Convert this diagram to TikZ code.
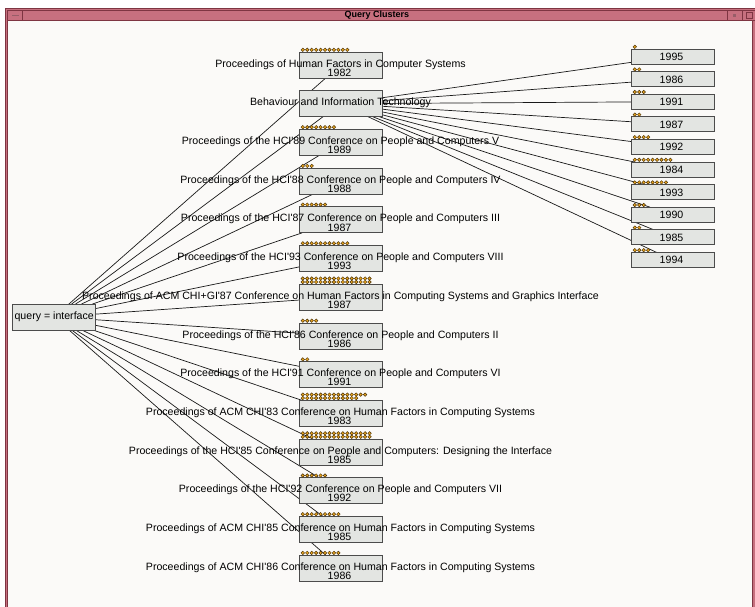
\documentclass[tikz,border=0pt]{standalone}
\usepackage{fontspec}
\setmainfont{Liberation Sans}[Ligatures=TeXOff]
\definecolor{winbg}{HTML}{FBFAF8}
\definecolor{titlec}{HTML}{C7707F}
\definecolor{titledark}{HTML}{7E3542}
\definecolor{boxfill}{HTML}{E3E5E2}
\definecolor{boxline}{HTML}{4C4C4C}
\definecolor{dotfill}{HTML}{E8A41E}
\definecolor{dotline}{HTML}{4A3208}
\pgfdeclarelayer{bg}
\pgfdeclarelayer{edges}
\pgfsetlayers{bg,edges,main}
\newcommand\mydotrow[3]{%
  \ifnum#1>0
    \foreach \k in {1,...,#1}
      \fill[dotstyle] ({#2+4.45*(\k-1)},#3) circle[radius=1.75pt];
  \fi}
\begin{document}
\begin{tikzpicture}[x=1pt,y=-1pt,
  box/.style={draw=boxline,fill=boxfill,line width=0.8pt,minimum width=83pt,minimum height=26pt,inner sep=0pt,outer sep=0pt},
  rbox/.style={box,minimum height=15pt},
  lbl/.style={inner sep=0pt,font=\fontsize{10.6}{12}\selectfont},
  yr/.style={inner sep=0pt,font=\fontsize{10.6}{12}\selectfont},
  edge/.style={draw=black!90,line width=0.7pt},
  dotstyle/.style={fill=dotfill,draw=dotline,line width=0.45pt}]
\useasboundingbox (0,0) rectangle (755,607);
% window frame
\begin{pgfonlayer}{bg}
  \fill[white] (0,0) rectangle (755,607);
  \fill[winbg] (7.3,21.5) rectangle (752.5,607);
  \fill[titlec] (5,8) rectangle (755,21.5);
  \fill[titlec] (5,21.5) rectangle (7.3,607);
  \fill[titlec] (752.5,21.5) rectangle (755,607);
  \draw[titledark,line width=0.6pt] (5,607) -- (5,8) -- (755,8);
  \draw[titledark,line width=0.7pt] (7.3,607) -- (7.3,10.3) -- (755,10.3);
  \draw[titledark,line width=0.6pt] (7.3,20.3) -- (755,20.3);
  \draw[titledark,line width=0.6pt] (22.7,10.3) -- (22.7,20.3);
  \draw[titledark,line width=0.6pt] (727,10.3) -- (727,20.3);
  \draw[titledark,line width=0.6pt] (742,10.3) -- (742,20.3);
  \draw[titledark,line width=0.6pt] (752.5,20.3) -- (752.5,607);
  \fill[titledark!80] (11.5,14.6) rectangle (18.5,16.4);
  \fill[titledark!80] (733.3,14.3) rectangle (735.8,16.6);
  \draw[titledark,line width=0.5pt] (746.5,12.3) rectangle (752,18.3);
  \node[font=\bfseries\fontsize{9}{10}\selectfont,inner sep=0pt] (title) at (377,15.3) {Query Clusters};
\end{pgfonlayer}
% query node
\node[box] (q) at (54.2,317) {};
\node[inner sep=0pt,font=\fontsize{10.6}{12}\selectfont] (qt) at (54.2,317) {query = interface};
% centre column
\foreach \i/\txt/\yr/\ra/\rb in {
  1/Proceedings of Human Factors in Computer Systems/1982/11/0,
  2/Behaviour and Information Technology//0/0,
  3/Proceedings of the HCI'89 Conference on People and Computers V/1989/8/0,
  4/Proceedings of the HCI'88 Conference on People and Computers IV/1988/3/0,
  5/Proceedings of the HCI'87 Conference on People and Computers III/1987/6/0,
  6/Proceedings of the HCI'93 Conference on People and Computers VIII/1993/11/0,
  7/Proceedings of ACM CHI+GI'87 Conference on Human Factors in Computing Systems and Graphics Interface/1987/16/16,
  8/Proceedings of the HCI'86 Conference on People and Computers II/1986/4/0,
  9/Proceedings of the HCI'91 Conference on People and Computers VI/1991/2/0,
  10/Proceedings of ACM CHI'83 Conference on Human Factors in Computing Systems/1983/13/15,
  11/Proceedings of the HCI'85 Conference on People and Computers: Designing the Interface/1985/16/16,
  12/Proceedings of the HCI'92 Conference on People and Computers VII/1992/6/0,
  13/Proceedings of ACM CHI'85 Conference on Human Factors in Computing Systems/1985/9/0,
  14/Proceedings of ACM CHI'86 Conference on Human Factors in Computing Systems/1986/9/0}{
  \pgfmathsetmacro\cy{65+38.7*(\i-1)}
  \node[box] (b\i) at (340.5,\cy) {};
  \mydotrow{\ra}{302.8}{\cy-15.2}
  \mydotrow{\rb}{302.8}{\cy-18.7}
  \node[lbl] (l\i) at (340.5,\cy-0.6) {\txt};
  \ifnum\i=2\else
    \node[yr] (y\i) at (339.5,\cy+7.6) {\yr};
  \fi
}
% right column
\foreach \j/\yr/\n in {1/1995/1,2/1986/2,3/1991/3,4/1987/2,5/1992/4,6/1984/9,7/1993/8,8/1990/3,9/1985/2,10/1994/4}{
  \pgfmathsetmacro\cy{56.5+22.6*(\j-1)}
  \node[rbox] (r\j) at (672.5,\cy) {};
  \mydotrow{\n}{634.8}{\cy-9.7}
  \node[yr] (ry\j) at (671.5,\cy+0.3) {\yr};
}
% connectors
\begin{pgfonlayer}{edges}
  \foreach \i in {1,...,14} \draw[edge] (q) -- (b\i);
  \foreach \j in {1,...,10} \draw[edge] (b2) -- (r\j);
\end{pgfonlayer}
\end{tikzpicture}
\end{document}
